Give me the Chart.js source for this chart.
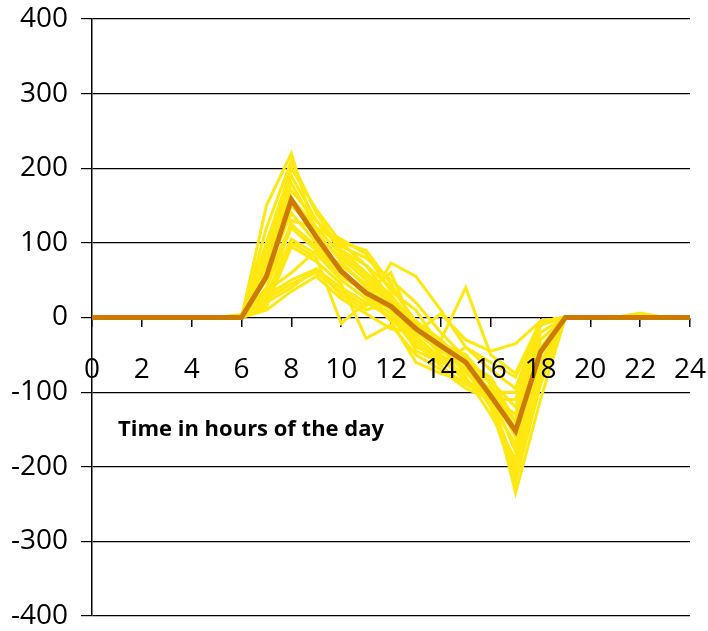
<!DOCTYPE html>
<html>
<head>
<meta charset="utf-8">
<script src="https://cdn.jsdelivr.net/npm/chart.js@4.4.1/dist/chart.umd.min.js"></script>
<style>
  html, body { margin: 0; padding: 0; background: #fff; }
  #wrap { width: 708px; height: 631px; }
</style>
</head>
<body>
<div id="wrap"><canvas id="myChart"></canvas></div>
<script>
const hours = [0,1,2,3,4,5,6,7,8,9,10,11,12,13,14,15,16,17,18,19,20,21,22,23,24];
const xTickValues = [0,2,4,6,8,10,12,14,16,18,20,22,24];
const yTickValues = [-400,-300,-200,-100,0,100,200,300,400];
const axisTitle = 'Time in hours of the day';

// average profile (thick orange line)
const meanValues = [0,0,0,0,0,0,0,55,158,108,62,33,15,-15,-38,-60,-105,-152,-46,0,0,0,0,0,0];

// individual day profiles (thin yellow lines)
const day01 = [0,0,0,0,0,0,0,150,220,110,80,50,20,-20,-45,-60,-100,-235,-110,0,0,0,0,0,0];
const day02 = [0,0,0,0,0,0,0,120,210,140,90,60,30,-10,-40,-70,-120,-220,-90,0,0,0,0,0,0];
const day03 = [0,0,0,0,0,0,2,100,200,145,100,70,40,-5,-30,-65,-110,-200,-70,0,0,0,0,0,0];
const day04 = [0,0,0,0,0,0,0,90,180,120,85,55,25,-15,-50,-80,-130,-190,-60,0,0,0,0,0,0];
const day05 = [0,0,0,0,0,0,3,80,170,130,95,80,50,20,-20,-55,-100,-180,-40,0,0,0,6,0,0];
const day06 = [0,0,0,0,0,0,0,70,150,115,75,40,15,-25,-55,-85,-115,-170,-30,0,0,0,0,0,0];
const day07 = [0,0,0,0,0,0,0,60,140,100,60,30,10,-30,-60,-75,-95,-160,-20,0,0,0,0,0,0];
const day08 = [0,0,0,0,0,0,4,50,125,95,70,45,20,-10,-35,-50,-90,-150,-10,0,0,0,0,0,0];
const day09 = [0,0,0,0,0,0,0,40,120,90,55,35,60,-20,-45,-60,-80,-140,-5,0,0,0,0,0,0];
const day10 = [0,0,0,0,0,0,0,30,105,85,50,25,5,-35,-65,-90,-105,-130,-5,0,0,0,0,0,0];
const day11 = [0,0,0,0,0,0,0,20,100,80,-8,20,0,-40,-50,-70,-85,-120,-5,0,0,0,0,0,0];
const day12 = [0,0,0,0,0,0,0,15,95,75,45,-28,-10,-50,-70,-95,-110,-110,-5,0,0,0,0,0,0];
const day13 = [0,0,0,0,0,0,0,35,60,90,65,30,-5,-60,-75,-85,-100,-100,-5,0,0,0,0,0,0];
const day14 = [0,0,0,0,0,0,0,30,50,65,40,20,15,-45,-60,-40,-70,-95,-5,0,0,0,0,0,0];
const day15 = [0,0,0,0,0,0,0,25,45,60,35,15,73,55,10,-40,-60,-80,-5,0,0,0,0,0,0];
const day16 = [0,0,0,0,0,0,0,20,40,65,30,10,20,-20,-30,40,-50,-75,-5,0,0,0,0,0,0];
const day17 = [0,0,0,0,0,0,0,10,35,55,25,5,-15,-20,5,-30,-45,-35,-5,0,0,0,0,0,0];
const day18 = [0,0,0,0,0,0,0,15,130,120,100,90,45,-10,-40,-50,-90,-140,-5,0,0,0,0,0,0];
const day19 = [0,0,0,0,0,0,0,80,160,120,105,85,35,10,-40,-75,-100,-160,-50,0,0,0,0,0,0];
const day20 = [0,0,0,0,0,0,0,100,190,130,90,70,25,-5,-30,-60,-115,-210,-80,0,0,0,0,0,0];
const dayProfiles = [day01,day02,day03,day04,day05,day06,day07,day08,day09,day10,
                     day11,day12,day13,day14,day15,day16,day17,day18,day19,day20];

const FONT = "'Open Sans', sans-serif";

const toPoints = vals => vals.map((v, i) => ({ x: hours[i], y: v }));

const datasets = [{
    data: toPoints(meanValues),
    borderColor: '#CC7A00',
    borderWidth: 5,
    pointRadius: 0,
    tension: 0
}];
dayProfiles.forEach(d => {
    datasets.push({
        data: toPoints(d),
        borderColor: '#FFE811',
        borderWidth: 3,
        pointRadius: 0,
        tension: 0
    });
});

// bold label inside the plot area
const titlePlugin = {
    id: 'insideTitle',
    afterDraw(chart) {
        const ctx = chart.ctx;
        const y = chart.scales.y.getPixelForValue(-151);
        ctx.save();
        ctx.font = "bold 22px " + FONT;
        ctx.fillStyle = '#000';
        ctx.textBaseline = 'middle';
        ctx.fillText(axisTitle, 118, y, 266);
        ctx.restore();
    }
};

// don't let tick label overflow push the plot area in
function noPad(scale) {
    scale.paddingTop = 0;
    scale.paddingBottom = 0;
    scale.paddingLeft = 0;
    scale.paddingRight = 0;
}

const ctx = document.getElementById('myChart').getContext('2d');
const myChart = new Chart(ctx, {
    type: 'line',
    data: { datasets: datasets },
    plugins: [titlePlugin],
    options: {
        responsive: true,
        maintainAspectRatio: false,
        animation: false,
        layout: { padding: { top: 19, right: 18, bottom: 15, left: 0 } },
        plugins: {
            legend: { display: false },
            tooltip: { enabled: false }
        },
        scales: {
            x: {
                type: 'linear',
                position: { y: 0 },
                min: 0,
                max: 24,
                afterBuildTicks: scale => { scale.ticks = xTickValues.map(v => ({ value: v })); },
                afterFit: scale => { scale.height = 0; noPad(scale); },
                grid: { drawOnChartArea: false, drawTicks: true, tickLength: 9, color: '#000', lineWidth: 1.5 },
                border: { display: false },
                ticks: {
                    z: 1, // hour labels sit on top of the lines
                    color: '#000',
                    font: { family: FONT, size: 28 },
                    padding: 27,
                    maxRotation: 0,
                    autoSkip: false
                }
            },
            y: {
                min: -400,
                max: 400,
                afterBuildTicks: scale => { scale.ticks = yTickValues.map(v => ({ value: v })); },
                afterFit: scale => { scale.width = 92; noPad(scale); },
                grid: { color: '#000', lineWidth: 1.2, tickLength: 11 },
                border: { display: true, color: '#000', width: 1.5 },
                ticks: {
                    color: '#000',
                    font: { family: FONT, size: 28 },
                    padding: 13
                }
            }
        }
    }
});
</script>
</body>
</html>
